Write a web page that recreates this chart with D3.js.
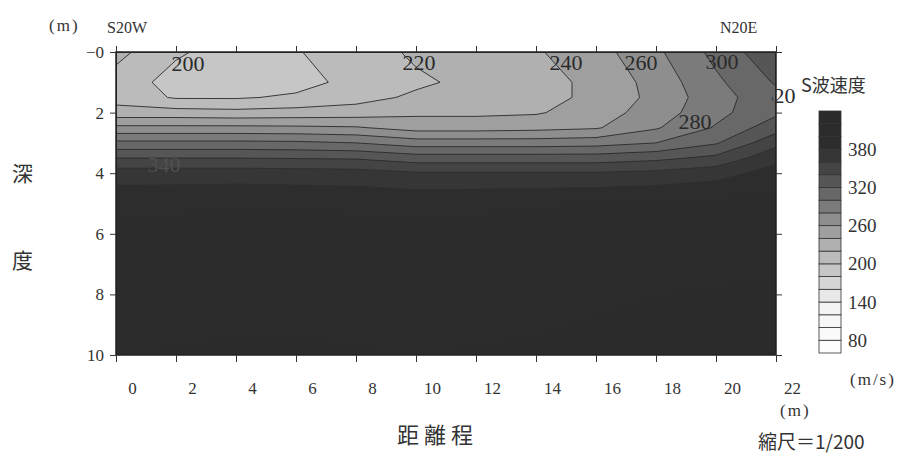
<!DOCTYPE html>
<html>
<head>
<meta charset="utf-8">
<script src="https://cdn.jsdelivr.net/npm/d3@7"></script>
<style>
  body { margin: 0; background: #fff; }
  text { font-family: "Liberation Serif", "DejaVu Serif", serif; fill: #333; }
  .cjk { font-family: "Noto Sans CJK JP", sans-serif; }
</style>
</head>
<body>
<div id="canvas"></div>
<script>
// survey grid: distance (m) along the line, depth (m)
const distances = [0, 2, 4, 6, 8, 10, 12, 14, 16, 18, 20, 22]
const depths = [0, 1, 1.5, 2, 2.5, 3, 3.5, 4, 5, 6, 8, 10]

// S-wave velocity (m/s), one row per depth
const velocity = [
  [226, 203, 190, 199, 208, 224, 231, 238, 252, 276, 306, 336],
  [212, 192, 188, 193, 206, 216, 226, 234, 244, 268, 296, 322],
  [212, 198, 198, 203, 212, 224, 230, 234, 244, 266, 292, 314],
  [228, 228, 226, 228, 230, 236, 236, 238, 250, 270, 294, 316],
  [265, 265, 265, 264, 262, 252, 252, 254, 258, 278, 302, 332],
  [305, 305, 305, 304, 300, 290, 290, 290, 292, 300, 318, 354],
  [340, 340, 340, 339, 338, 330, 330, 330, 330, 335, 345, 374],
  [370, 370, 370, 369, 368, 362, 362, 362, 362, 365, 372, 388],
  [395, 396, 398, 397, 396, 395, 396, 398, 400, 402, 404, 406],
  [405, 406, 407, 407, 406, 405, 406, 408, 410, 412, 414, 415],
  [414, 415, 416, 416, 415, 414, 415, 416, 418, 420, 421, 422],
  [420, 421, 422, 422, 421, 420, 421, 422, 424, 426, 427, 428]
]

const levels = d3.range(60, 440, 20)
const distanceTicks = [0, 2, 4, 6, 8, 10, 12, 14, 16, 18, 20, 22]
const depthTicks = [0, 2, 4, 6, 8, 10]
const depthTickLabels = ["\u22120", "2", "4", "6", "8", "10"]
const legendTicks = [80, 140, 200, 260, 320, 380]

// contour labels: value and where it sits (distance, depth)
const labelValues = [200, 220, 240, 260, 300, 280, 320, 340]
const labelDist = [2.4, 10.1, 15.0, 17.5, 20.2, 19.3, 22.1, 1.6]
const labelDepth = [0.38, 0.35, 0.35, 0.35, 0.3, 2.3, 1.42, 3.72]

const width = 898, height = 459
const serif = '"Liberation Serif", "DejaVu Serif", serif'

const svg = d3.select("#canvas").append("svg")
  .attr("width", width)
  .attr("height", height)

let x = d3.scaleLinear().domain([0, 22]).range([116, 776])
let y = d3.scaleLinear().domain([0, 10]).range([52, 355])

let grey = d3.scaleLinear()
  .domain([60, 140, 170, 190, 230, 270, 310, 350, 370, 390, 440])
  .range(["#ffffff", "#f2f2f2", "#d6d6d6", "#c6c6c6", "#b0b0b0", "#8e8e8e", "#686868", "#444444", "#363636", "#2d2d2d", "#2a2a2a"])
function bandColor(v) { return grey(v + 10) }

// grid index -> metres (depth rows are not evenly spaced)
let colToDist = d3.scaleLinear().domain(d3.range(distances.length)).range(distances).clamp(true)
let rowToDepth = d3.scaleLinear().domain(d3.range(depths.length)).range(depths).clamp(true)

let values = []
velocity.forEach(row => row.forEach(v => values.push(v)))

let contours = d3.contours()
  .size([distances.length, depths.length])
  .thresholds(levels)(values)

let toPlot = d3.geoTransform({
  point: function (px, py) {
    this.stream.point(x(colToDist(px - 0.5)), y(rowToDepth(py - 0.5)))
  }
})
let path = d3.geoPath(toPlot)

svg.append("clipPath").attr("id", "clip")
  .append("rect")
  .attr("x", x(0)).attr("y", y(0))
  .attr("width", x(22) - x(0)).attr("height", y(10) - y(0))

// only the part of a label that sticks out to the right of the frame
svg.append("clipPath").attr("id", "clipRight")
  .append("rect")
  .attr("x", x(22) - 4).attr("y", 0)
  .attr("width", 40).attr("height", height)

let plot = svg.append("g").attr("clip-path", "url(#clip)")

plot.append("g").selectAll("path")
  .data(contours)
  .join("path")
  .attr("d", path)
  .attr("fill", d => bandColor(d.value))

plot.append("g").selectAll("path")
  .data(contours.filter(c => c.value > 60 && c.value < 400))
  .join("path")
  .attr("d", path)
  .attr("fill", "none")
  .attr("stroke", d => d.value < 360 ? "#2a2a2a" : "#2e2e2e")
  .attr("stroke-width", 0.9)

// frame
svg.append("rect")
  .attr("x", x(0)).attr("y", y(0))
  .attr("width", x(22) - x(0)).attr("height", y(10) - y(0))
  .attr("fill", "none")
  .attr("stroke", "#222")
  .attr("stroke-width", 1.5)

// contour labels
labelValues.forEach((v, i) => {
  let t = svg.append("text")
    .attr("x", x(labelDist[i]))
    .attr("y", y(labelDepth[i]))
    .attr("dy", "0.35em")
    .attr("text-anchor", "middle")
    .style("font-family", serif)
    .style("font-size", "22px")
    .style("fill", v >= 340 ? "#505050" : "#2a2a2a")
    .text(v)
  if (labelDist[i] > 22) t.attr("clip-path", "url(#clipRight)")
})

// axes
function styleAxis(g) {
  g.select(".domain").remove()
  g.selectAll("line").attr("stroke", "#333")
  g.attr("font-family", null).attr("font-size", null)
  g.selectAll("text").style("font-family", serif).style("font-size", "17px").style("fill", "#333")
}

svg.append("g")
  .attr("transform", "translate(0," + y(10) + ")")
  .call(d3.axisBottom(x).tickValues(distanceTicks).tickSize(7))
  .call(styleAxis)
  .call(g => g.selectAll("text").attr("x", 16).attr("y", 27))

svg.append("g")
  .attr("transform", "translate(0," + y(0) + ")")
  .call(d3.axisTop(x).tickValues(distanceTicks).tickSize(6).tickFormat(""))
  .call(styleAxis)

svg.append("g")
  .attr("transform", "translate(" + x(0) + ",0)")
  .call(d3.axisLeft(y).tickValues(depthTicks).tickSize(6).tickPadding(6)
    .tickFormat((d, i) => depthTickLabels[i]))
  .call(styleAxis)

svg.append("g")
  .attr("transform", "translate(" + x(22) + ",0)")
  .call(d3.axisRight(y).tickValues(depthTicks).tickSize(6).tickFormat(""))
  .call(styleAxis)

// colour bar
let cb = d3.scaleLinear().domain([60, 440]).range([353, 111])
let legend = svg.append("g")
legend.selectAll("rect")
  .data(levels)
  .join("rect")
  .attr("x", 819)
  .attr("y", d => cb(d + 20))
  .attr("width", 22)
  .attr("height", d => cb(d) - cb(d + 20))
  .attr("fill", d => bandColor(d))
  .attr("stroke", "#333")
  .attr("stroke-width", 0.8)

legend.selectAll("text")
  .data(legendTicks)
  .join("text")
  .attr("x", 848)
  .attr("y", d => cb(d))
  .attr("dy", "0.35em")
  .style("font-family", serif)
  .style("font-size", "19px")
  .text(d => d)

// titles and notes
function note(tx, ty, str, size, cls, anchor) {
  let t = svg.append("text")
    .attr("x", tx).attr("y", ty)
    .style("font-size", size + "px")
    .attr("text-anchor", anchor || "start")
    .text(str)
  if (cls) t.attr("class", cls)
  else t.style("font-family", serif)
  return t
}

note(49, 31, "(m)", 17).style("letter-spacing", "2px")
note(107, 33, "S20W", 16)
note(720, 33, "N20E", 16)
note(801, 92, "S\u6ce2\u901f\u5ea6", 18, "cjk")
note(12, 181, "\u6df1", 21, "cjk")
note(12, 268, "\u5ea6", 21, "cjk")
note(435, 443, "\u8ddd \u96e2 \u7a0b", 22, "cjk", "middle")
note(850, 385, "(m/s)", 17).style("letter-spacing", "2px")
note(780, 416, "(m)", 17).style("letter-spacing", "2px")
note(758, 449, "\u7e2e\u5c3a\uff1d1/200", 19, "cjk")
</script>
</body>
</html>
